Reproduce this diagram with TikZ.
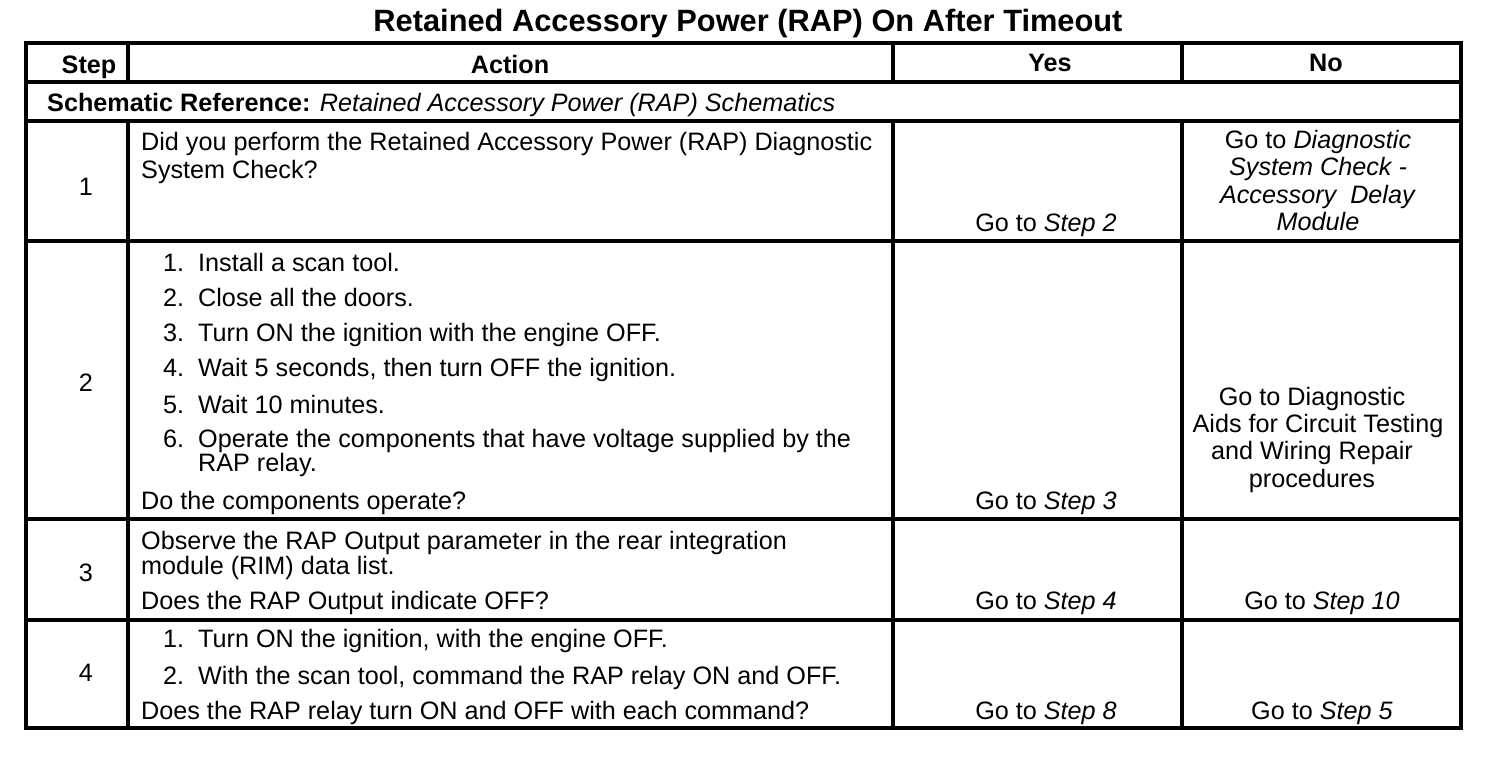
\documentclass[tikz,border=0pt]{standalone}
\usepackage{fontspec}
\setmainfont{Liberation Sans}

\begin{document}
\begin{tikzpicture}[x=1pt,y=-1pt,
	rule/.style={line width=3.2pt,line cap=rect},
	txt/.style={anchor=base west,inner sep=0pt,font=\fontsize{25.2}{28}\selectfont},
	mid/.style={anchor=base,inner sep=0pt,font=\fontsize{25.2}{28}\selectfont},
	head/.style={mid,font=\fontsize{25.2}{28}\selectfont\bfseries}]
	\useasboundingbox (0,0) rectangle (1504,760);
	% title
	\node[anchor=base,inner sep=0pt,font=\fontsize{30.8}{34}\selectfont\bfseries] (title) at (748,32) {Retained Accessory Power (RAP) On After Timeout};
	% grid
	\draw[rule] (26,43) rectangle (1461,728);
	\draw[rule] (26,82) -- (1461,82);
	\draw[rule] (26,121) -- (1461,121);
	\draw[rule] (26,241) -- (1461,241);
	\draw[rule] (26,519) -- (1461,519);
	\draw[rule] (26,620) -- (1461,620);
	\foreach \x in {128,893,1182} {
		\draw[rule] (\x,43) -- (\x,82);
		\draw[rule] (\x,121) -- (\x,728);
	}
	% header
	\node[head] (hstep) at (89,74) {Step};
	\node[head] (hact) at (510,74) {Action};
	\node[head] (hyes) at (1050,71) {Yes};
	\node[head] (hno) at (1326,71) {No};
	\node[txt] (schem) at (47,111) {\textbf{Schematic Reference:} \textit{Retained Accessory Power (RAP) Schematics}};
	% step 1
	\node[mid] (s1) at (86,195) {1};
	\node[txt] (a1a) at (141,150) {Did you perform the Retained Accessory Power (RAP) Diagnostic};
	\node[txt] (a1b) at (141,178) {System Check?};
	\node[mid] (y1) at (1046,231) {Go to \textit{Step 2}};
	\node[mid] (n1a) at (1318,148) {Go to \textit{Diagnostic}};
	\node[mid] (n1b) at (1318,175) {\textit{System Check -}};
	\node[mid] (n1c) at (1318,203) {\textit{Accessory\ \ Delay}};
	\node[mid] (n1d) at (1318,230) {\textit{Module}};
	% step 2
	\node[mid] (s2) at (86,391) {2};
	\foreach \n/\y/\t in {1/271/{Install a scan tool.},
		2/306/{Close all the doors.},
		3/341/{Turn ON the ignition with the engine OFF.},
		4/376/{Wait 5 seconds, then turn OFF the ignition.},
		5/413/{Wait 10 minutes.},
		6/447/{Operate the components that have voltage supplied by the}} {
		\node[txt] (i2n\n) at (163,\y) {\n.};
		\node[txt] (i2t\n) at (198,\y) {\t};
	}
	\node[txt] (i2t6b) at (198,471) {RAP relay.};
	\node[txt] (a2) at (141,509) {Do the components operate?};
	\node[mid] (y2) at (1046,509) {Go to \textit{Step 3}};
	\node[mid] (n2a) at (1312,405) {Go to Diagnostic};
	\node[mid] (n2b) at (1318,432) {Aids for Circuit Testing};
	\node[mid] (n2c) at (1312,459) {and Wiring Repair};
	\node[mid] (n2d) at (1312,487) {procedures};
	% step 3
	\node[mid] (s3) at (86,581) {3};
	\node[txt] (a3a) at (141,549) {Observe the RAP Output parameter in the rear integration};
	\node[txt] (a3b) at (141,574) {module (RIM) data list.};
	\node[txt] (a3c) at (141,609) {Does the RAP Output indicate OFF?};
	\node[mid] (y3) at (1046,609) {Go to \textit{Step 4}};
	\node[mid] (n3) at (1322,609) {Go to \textit{Step 10}};
	% step 4
	\node[mid] (s4) at (86,681) {4};
	\node[txt] (i4n1) at (163,647) {1.};
	\node[txt] (i4t1) at (198,647) {Turn ON the ignition, with the engine OFF.};
	\node[txt] (i4n2) at (163,684) {2.};
	\node[txt] (i4t2) at (198,684) {With the scan tool, command the RAP relay ON and OFF.};
	\node[txt] (a4) at (141,719) {Does the RAP relay turn ON and OFF with each command?};
	\node[mid] (y4) at (1046,719) {Go to \textit{Step 8}};
	\node[mid] (n4) at (1322,719) {Go to \textit{Step 5}};
\end{tikzpicture}
\end{document}
